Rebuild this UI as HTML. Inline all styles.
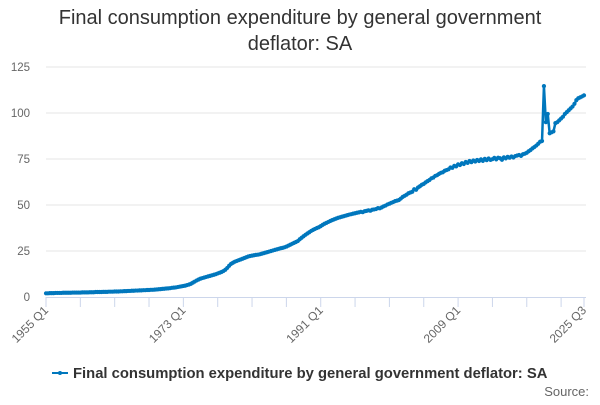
<!DOCTYPE html>
<html><head><meta charset="utf-8"><style>
body{margin:0;background:#fff;font-family:"Liberation Sans","DejaVu Sans",sans-serif}
</style></head><body>
<svg id="chart" width="600" height="400" viewBox="0 0 600 400" xmlns="http://www.w3.org/2000/svg">
<g font-size="20" fill="#333" text-anchor="middle">
<text x="300" y="24">Final consumption expenditure by general government</text>
<text x="300" y="50">deflator: SA</text>
</g>
<g id="grid"></g>
<g id="yaxis"></g>
<g id="xaxis"></g>
<g id="series"></g>
<g>
<line x1="52" y1="373" x2="68" y2="373" stroke="#0077bd" stroke-width="2"/>
<circle cx="60" cy="373" r="2" fill="#0077bd"/>
<text x="73" y="378" font-size="14.8" font-weight="bold" fill="#333">Final consumption expenditure by general government deflator: SA</text>
</g>
<text x="589" y="396" font-size="13" fill="#666" text-anchor="end">Source:</text>
</svg>
<script>
const yTicks=[0,25,50,75,100,125];
const xTickLabels=["1955 Q1","1973 Q1","1991 Q1","2009 Q1","2025 Q3"];
const xTickIndex=[0,72,144,216,282];
const values=[
2.0,2.0,2.1,2.1, 2.1,2.2,2.2,2.2, 2.2,2.3,2.3,2.3, 2.3,2.3,2.4,2.4, 2.4,2.4,2.4,2.5,
2.5,2.5,2.5,2.6, 2.6,2.6,2.7,2.7, 2.7,2.7,2.8,2.8, 2.8,2.9,2.9,2.9, 3.0,3.0,3.0,3.1,
3.1,3.2,3.2,3.3, 3.3,3.4,3.4,3.5, 3.5,3.6,3.6,3.7, 3.7,3.8,3.8,3.9, 3.9,4.0,4.1,4.2,
4.3,4.4,4.5,4.6, 4.7,4.8,5.0,5.1, 5.2,5.4,5.6,5.8, 6.0,6.2,6.5,6.8, 7.2,7.8,8.4,9.0,
9.5,10.0,10.3,10.6, 10.9,11.2,11.5,11.8, 12.1,12.4,12.8,13.2, 13.6,14.1,14.8,15.8, 17.0,18.0,18.6,19.2,
19.6,20.0,20.4,20.8, 21.2,21.6,22.0,22.3, 22.5,22.7,22.9,23.0, 23.2,23.5,23.8,24.1, 24.4,24.7,25.0,25.3,
25.6,25.9,26.2,26.5, 26.7,27.0,27.4,27.9, 28.4,28.9,29.4,29.9, 30.4,31.4,32.2,33.0, 33.8,34.5,35.2,35.9,
36.5,37.0,37.5,37.9, 38.5,39.2,39.8,40.3, 40.8,41.3,41.8,42.2, 42.6,43.0,43.3,43.6, 43.9,44.2,44.5,44.8,
45.0,45.3,45.5,45.8, 46.0,46.3,46.1,46.6, 46.8,47.1,46.9,47.4, 47.6,47.8,48.3,48.2, 48.7,49.3,49.7,50.3,
50.7,51.2,51.6,52.1, 52.4,52.7,53.5,54.4, 55.0,55.6,56.4,56.8, 57.2,58.6,58.3,59.5, 60.2,61.0,61.5,62.3,
63.0,63.6,64.5,64.9, 65.8,66.2,66.9,67.5, 67.8,68.6,69.0,69.4, 70.4,70.2,71.3,71.0, 72.1,71.7,72.7,72.3,
73.4,72.9,73.9,73.3, 74.2,73.6,74.5,73.9, 74.8,74.0,75.1,74.4, 75.3,74.5,74.9,75.6, 74.8,75.7,75.4,74.6,
75.9,75.3,76.2,75.7, 76.4,75.8,76.6,76.9, 77.2,76.7,77.6,77.9, 78.4,79.2,79.9,80.8, 81.5,82.3,83.3,84.4,
84.8,114.6,95.0,99.5, 89.0,89.5,90.0,94.5, 95.0,96.0,97.0,98.0, 99.5,100.5,101.5,102.5, 103.5,105.0,107.0,108.0,
108.5,109.0,109.6
];
const NS="http://www.w3.org/2000/svg";
const X0=46,X1=584,Y0=297,Y1=67,YMAX=125;
const n=values.length;
function xs(i){return X0+(X1-X0)*i/(n-1);}
function ys(v){return Y0-(Y0-Y1)*v/YMAX;}
function mk(tag,attrs,parent){const e=document.createElementNS(NS,tag);for(const k in attrs)e.setAttribute(k,attrs[k]);parent.appendChild(e);return e;}
const grid=document.getElementById('grid'),ya=document.getElementById('yaxis'),xa=document.getElementById('xaxis'),ser=document.getElementById('series');
yTicks.forEach(t=>{
  if(t>0){const g=mk('line',{x1:X0,x2:X1+2,y1:ys(t),y2:ys(t),stroke:'#e6e6e6','stroke-width':1},grid);
  
  }
  const l=mk('text',{x:30,y:ys(t)+4,'font-size':11.5,fill:'#666','text-anchor':'end'},ya);
  
  
  l.textContent=t;
});
const ax=mk('line',{x1:X0,x2:X1+2,y1:Y0+0.5,y2:Y0+0.5,stroke:'#ccd6eb','stroke-width':1},xa);


for(let i=0;i<=282;i+=18){
  const tk=mk('line',{x1:xs(i),x2:xs(i),y1:Y0,y2:Y0+10,stroke:'#ccd6eb','stroke-width':1},xa);
  
  
}
const lt=mk('line',{x1:xs(282),x2:xs(282),y1:Y0,y2:Y0+10,stroke:'#ccd6eb','stroke-width':1},xa);


xTickLabels.forEach((lab,k)=>{
  const x=xs(xTickIndex[k])+3,y=Y0+14;
  const t=mk('text',{x:x,y:y,'font-size':12,fill:'#666','text-anchor':'end',transform:`rotate(-45 ${x} ${y})`},xa);
  
  
  t.textContent=lab;
});
const pts=values.map((v,i)=>xs(i).toFixed(2)+','+ys(v).toFixed(2)).join(' ');
const pl=mk('polyline',{points:pts,fill:'none',stroke:'#0077bd','stroke-width':2.5,'stroke-linejoin':'round'},ser);


values.forEach((v,i)=>{
  const c=mk('circle',{cx:xs(i),cy:ys(v),r:2.1,fill:'#0077bd'},ser);
  
  
});
</script>
</body></html>
